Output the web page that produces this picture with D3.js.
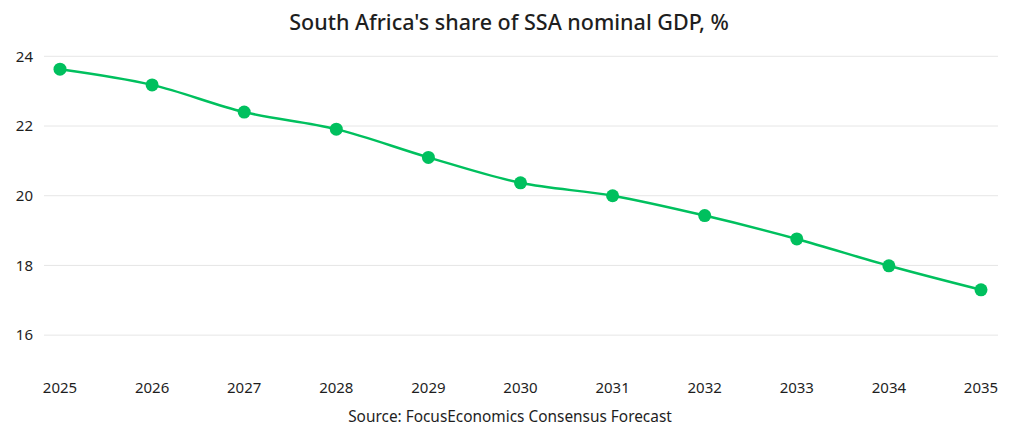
<!DOCTYPE html>
<html>
<head>
<meta charset="utf-8">
<script src="https://cdn.jsdelivr.net/npm/d3@7"></script>
<style>
  body { margin: 0; background: #fff; }
  svg text { font-family: "Noto Sans", "Open Sans", sans-serif; fill: #1e1e1e; }
</style>
</head>
<body>
<svg id="chart" width="1024" height="437"></svg>
<script>
var years = [2025, 2026, 2027, 2028, 2029, 2030, 2031, 2032, 2033, 2034, 2035];
var share = [23.63, 23.18, 22.4, 21.91, 21.1, 20.37, 20.0, 19.43, 18.76, 17.99, 17.3];
var yTicks = [16, 18, 20, 22, 24];

var svg = d3.select('#chart');
var green = '#00c05e';

var x = d3.scalePoint().domain(years).range([60, 981]);
var y = d3.scaleLinear().domain([15, 24]).range([370, 56.3]);

// title
svg.append('text').attr('x', 509).attr('y', 30).attr('text-anchor', 'middle')
    .style('font-size', '21.5px').style('font-weight', 500)
    .text("South Africa's share of SSA nominal GDP, %");

// gridlines
svg.append('g').selectAll('line').data(yTicks).enter().append('line')
    .attr('x1', 44).attr('x2', 998)
    .attr('y1', function(d){ return y(d); }).attr('y2', function(d){ return y(d); })
    .attr('stroke', '#e6e6e6').attr('stroke-width', 1);

// y labels
svg.append('g').selectAll('text').data(yTicks).enter().append('text')
    .attr('x', 33).attr('y', function(d){ return y(d); }).attr('dy', '0.35em')
    .attr('text-anchor', 'end').style('font-size', '15px')
    .text(function(d){ return d; });

// x labels
svg.append('g').selectAll('text').data(years).enter().append('text')
    .attr('x', function(d){ return x(d); }).attr('y', 393)
    .attr('text-anchor', 'middle').style('font-size', '15px')
    .text(function(d){ return d; });

var pts = years.map(function(d, i){ return [d, share[i]]; });

var line = d3.line().x(function(d){ return x(d[0]); }).y(function(d){ return y(d[1]); })
    .curve(d3.curveMonotoneX);

svg.append('path').datum(pts).attr('d', line)
    .attr('fill', 'none').attr('stroke', green).attr('stroke-width', 2.5);

svg.append('g').selectAll('circle').data(pts).enter().append('circle')
    .attr('cx', function(d){ return x(d[0]); }).attr('cy', function(d){ return y(d[1]); })
    .attr('r', 6.5).attr('fill', green);

// source
svg.append('text').attr('x', 510).attr('y', 422).attr('text-anchor', 'middle')
    .style('font-size', '15.4px')
    .text('Source: FocusEconomics Consensus Forecast');
</script>
</body>
</html>
